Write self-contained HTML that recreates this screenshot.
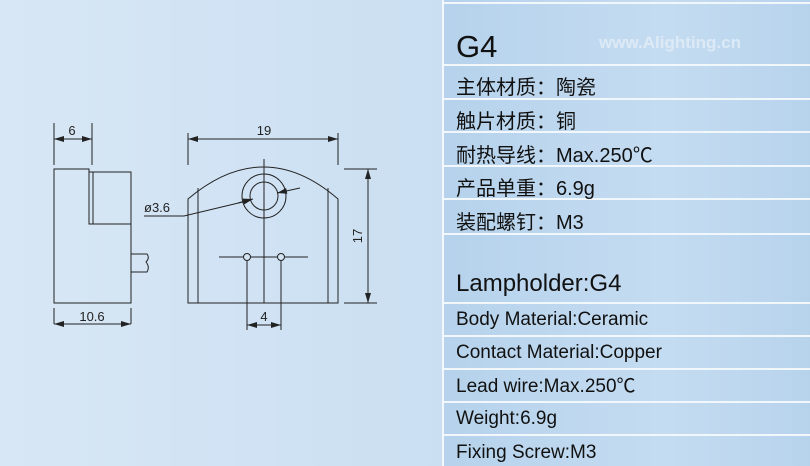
<!DOCTYPE html>
<html><head><meta charset="utf-8"><style>
body{margin:0;width:810px;height:466px;overflow:hidden;background:linear-gradient(90deg,#d8e7f5,#cadff2 55%,#c0d9ef);font-family:"Liberation Sans","Noto Sans CJK SC",sans-serif;position:relative}
#panel{position:absolute;left:442px;top:0;width:368px;height:466px;background:linear-gradient(90deg,#b6d2ec,#c4dcf1 60%,#b7d3ec);border-left:2px solid #f4f8fc}
.l{position:absolute;left:0;width:368px;height:2px;background:#f2f7fc}
.t{position:absolute;left:12px;color:#111;font-size:19px;white-space:nowrap}
.c{font-size:20px}
</style></head><body>
<svg width="440" height="466" style="position:absolute;left:0;top:0" stroke="#222" stroke-width="1" fill="none">
<defs><marker id="a" viewBox="0 0 10 6" refX="10" refY="3" markerWidth="10" markerHeight="6" orient="auto-start-reverse"><path d="M0,0L10,3L0,6z" fill="#222" stroke="none"/></marker></defs>
<path d="M54,303V169H89V172H131V303Z"/>
<path d="M89,172V224H131"/>
<path d="M93,172V224"/>
<path d="M131,254H147q3,4 -1,8q4,5 1,10H131"/>
<path d="M54,123V165M92,123V165M54,324V308M131,324V308"/>
<line x1="54" y1="139" x2="92" y2="139" marker-start="url(#a)" marker-end="url(#a)"/>
<line x1="54" y1="324" x2="131" y2="324" marker-start="url(#a)" marker-end="url(#a)"/>
<path d="M188,303V199Q264,135 338,199V303Z"/>
<path d="M198,188V303M328,188V303"/>
<circle cx="264" cy="196" r="22"/><circle cx="264" cy="196" r="14"/>
<path d="M264,159V303M219,257H308"/>
<circle cx="247" cy="257" r="3.5" fill="#d3e4f3"/><circle cx="281" cy="257" r="3.5" fill="#d3e4f3"/>
<path d="M247,261V330M281,261V330"/>
<line x1="247" y1="325" x2="281" y2="325" marker-start="url(#a)" marker-end="url(#a)"/>
<path d="M188,133V165M338,133V165"/>
<line x1="188" y1="139" x2="338" y2="139" marker-start="url(#a)" marker-end="url(#a)"/>
<path d="M344,169H377M344,303H377"/>
<line x1="368" y1="169" x2="368" y2="303" marker-start="url(#a)" marker-end="url(#a)"/>
<path d="M144,216H184L251,200"/>
<line x1="238" y1="203" x2="253" y2="199" marker-end="url(#a)"/>
<line x1="300" y1="188" x2="277" y2="193" marker-end="url(#a)"/>
<g fill="#222" stroke="none" font-family="Liberation Sans,sans-serif" font-size="13">
<text x="72" y="135" text-anchor="middle">6</text>
<text x="264" y="135" text-anchor="middle">19</text>
<text x="92" y="321" text-anchor="middle">10.6</text>
<text x="264" y="321" text-anchor="middle">4</text>
<text x="144" y="212">ø3.6</text>
<text x="0" y="0" text-anchor="middle" transform="translate(362,236) rotate(-90)">17</text>
</g>
</svg>
<div id="panel">
<div class="l" style="top:2px"></div><div class="l" style="top:64px"></div><div class="l" style="top:98px"></div><div class="l" style="top:131px"></div><div class="l" style="top:165px"></div><div class="l" style="top:198px"></div><div class="l" style="top:233px"></div>
<div class="l" style="top:302px"></div><div class="l" style="top:335px"></div><div class="l" style="top:368px"></div><div class="l" style="top:401px"></div><div class="l" style="top:434px"></div>
<div style="position:absolute;left:155px;top:33px;font-size:17px;font-weight:bold;color:#e4eef8;opacity:.8">www.Alighting.cn</div>
<div class="t" style="top:29px;font-size:31px">G4</div>
<div class="t c" style="top:71px">主体材质：陶瓷</div>
<div class="t c" style="top:105px">触片材质：铜</div>
<div class="t c" style="top:139px">耐热导线：Max.250℃</div>
<div class="t c" style="top:172px">产品单重：6.9g</div>
<div class="t c" style="top:206px">装配螺钉：M3</div>
<div class="t" style="top:270px;font-size:24px">Lampholder:G4</div>
<div class="t" style="top:309px">Body Material:Ceramic</div>
<div class="t" style="top:342px">Contact Material:Copper</div>
<div class="t" style="top:371px">Lead wire:Max.250℃</div>
<div class="t" style="top:408px">Weight:6.9g</div>
<div class="t" style="top:442px">Fixing Screw:M3</div>
</div>
</body></html>
